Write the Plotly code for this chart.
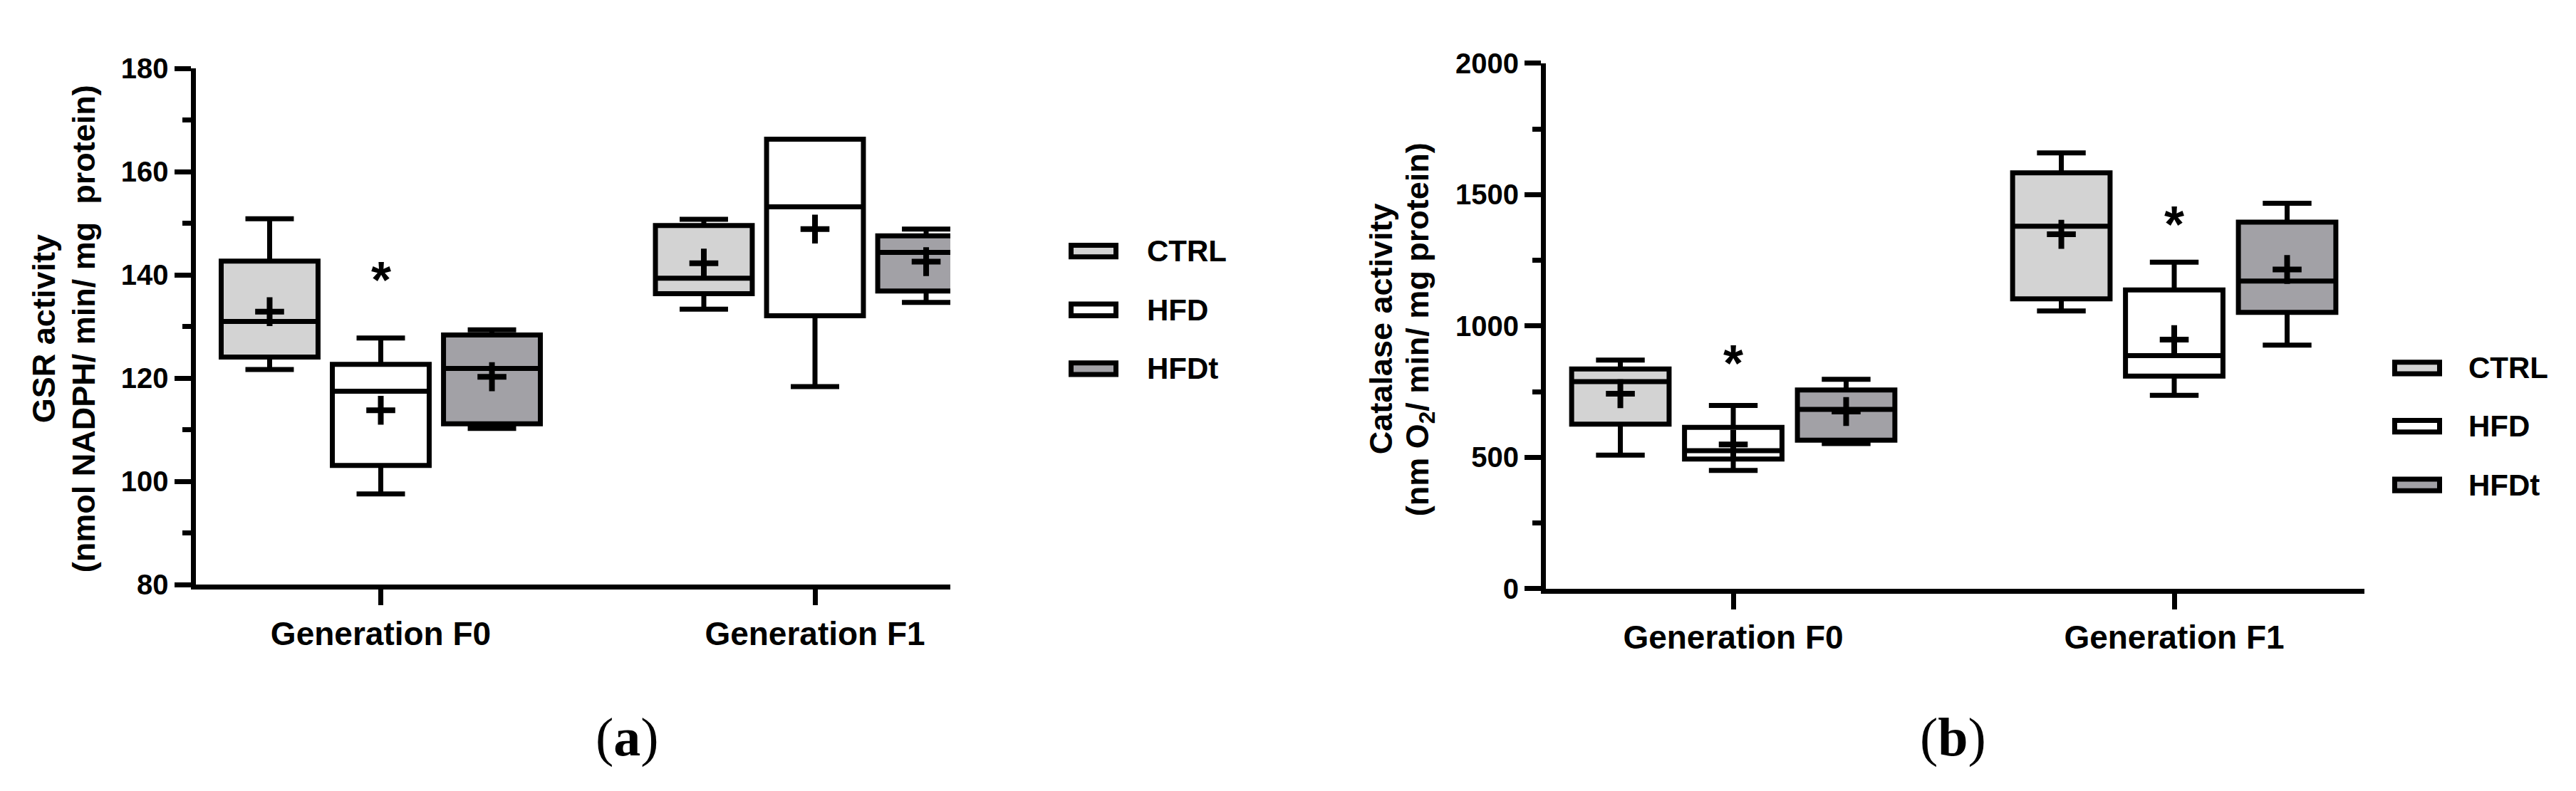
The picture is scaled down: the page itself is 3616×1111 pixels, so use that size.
import plotly.graph_objects as go

W, H = 3616, 1111

# ---------------- data ----------------
groups = ["Generation F0", "Generation F1"]
series = ["CTRL", "HFD", "HFDt"]
colors = {"CTRL": "#d3d3d3", "HFD": "#ffffff", "HFDt": "#a2a1a6"}

# (a) GSR activity, values per series for [F0, F1]
gsr_lower = {"CTRL": [121.7, 133.4], "HFD": [97.6, 118.4], "HFDt": [110.3, 134.7]}
gsr_q1 = {"CTRL": [124.1, 136.4], "HFD": [103.1, 132.1], "HFDt": [111.2, 136.9]}
gsr_median = {"CTRL": [131.0, 139.4], "HFD": [117.5, 153.2], "HFDt": [121.9, 144.4]}
gsr_q3 = {"CTRL": [142.7, 149.6], "HFD": [122.7, 166.3], "HFDt": [128.4, 147.6]}
gsr_upper = {"CTRL": [150.9, 150.8], "HFD": [127.8, 166.3], "HFDt": [129.4, 148.9]}
gsr_mean = {"CTRL": [132.9, 142.3], "HFD": [113.8, 148.9], "HFDt": [120.3, 142.6]}
gsr_star = {"F0": 139.1}

# (b) Catalase activity
cat_lower = {"CTRL": [508, 1057], "HFD": [450, 736], "HFDt": [552, 927]}
cat_q1 = {"CTRL": [626, 1103], "HFD": [493, 809], "HFDt": [565, 1052]}
cat_median = {"CTRL": [788, 1380], "HFD": [525, 887], "HFDt": [682, 1171]}
cat_q3 = {"CTRL": [836, 1583], "HFD": [614, 1137], "HFDt": [756, 1395]}
cat_upper = {"CTRL": [870, 1659], "HFD": [697, 1243], "HFDt": [797, 1467]}
cat_mean = {"CTRL": [742, 1349], "HFD": [549, 948], "HFDt": [674, 1215]}
cat_star = {"F0": 858, "F1": 1387}

gsr_ticks = [80, 100, 120, 140, 160, 180]
cat_ticks = [0, 500, 1000, 1500, 2000]

FONT = "Liberation Sans"
LW = 7

fig = go.Figure()


def add_panel(xa, ya, lower, q1, med, q3, upper, mean, spacing, bw):
    for k, s in enumerate(series):
        xs = [g + (k - 1) * spacing for g in range(len(groups))]
        fig.add_trace(go.Box(
            x=xs, q1=q1[s], median=med[s], q3=q3[s],
            lowerfence=lower[s], upperfence=upper[s],
            width=bw, whiskerwidth=0.5,
            fillcolor=colors[s], line=dict(color="black", width=LW),
            xaxis=xa, yaxis=ya, showlegend=False, boxpoints=False,
            hoverinfo="skip",
        ))
        fig.add_trace(go.Scatter(
            x=xs, y=mean[s], mode="markers",
            marker=dict(symbol="cross-thin", size=29,
                        line=dict(color="black", width=8), color="black"),
            xaxis=xa, yaxis=ya, showlegend=False, hoverinfo="skip",
        ))


add_panel("x", "y", gsr_lower, gsr_q1, gsr_median, gsr_q3, gsr_upper, gsr_mean, 0.256, 0.223)
add_panel("x2", "y2", cat_lower, cat_q1, cat_median, cat_q3, cat_upper, cat_mean, 0.256, 0.221)

axis_common = dict(showline=True, linewidth=LW, linecolor="black", showgrid=False,
                   zeroline=False, ticks="outside", tickwidth=LW, tickcolor="black",
                   fixedrange=True)

xtick_font = dict(family=FONT, size=46, color="black", weight="bold")
ytick_font = dict(family=FONT, size=40, color="black", weight="bold")

fig.update_layout(
    width=W, height=H, autosize=False,
    margin=dict(l=0, r=0, t=0, b=0),
    paper_bgcolor="white", plot_bgcolor="white",
    boxmode="overlay",
    xaxis=dict(domain=[266.5 / W, 1326 / W], range=[-0.4266, 1.3117],
               tickvals=[0, 1], ticktext=groups, ticklen=22,
               tickfont=xtick_font, anchor="y", **axis_common),
    yaxis=dict(domain=[1 - 824 / H, 1 - 69 / H], range=[80, 180],
               tickvals=gsr_ticks, ticklen=23, tickfont=ytick_font, anchor="x",
               minor=dict(dtick=10, ticks="outside", ticklen=12, tickwidth=LW,
                          tickcolor="black", showgrid=False),
               **axis_common),
    xaxis2=dict(domain=[2162 / W, 3311 / W], range=[-0.4249, 1.4313],
                tickvals=[0, 1], ticktext=groups, ticklen=22,
                tickfont=xtick_font, anchor="y2", **axis_common),
    yaxis2=dict(domain=[1 - 829.5 / H, 1 - 61.4 / H], range=[0, 2000],
                tickvals=cat_ticks, ticklen=23, tickfont=ytick_font, anchor="x2",
                minor=dict(dtick=250, ticks="outside", ticklen=12, tickwidth=LW,
                           tickcolor="black", showgrid=False),
                **axis_common),
)

ann = []
# significance stars
star_font = dict(family=FONT, size=72, color="black", weight="bold")
ann.append(dict(x=0, y=gsr_star["F0"], xref="x", yref="y", text="*", showarrow=False,
                font=star_font, xanchor="center", yanchor="middle", yshift=0))
ann.append(dict(x=0, y=cat_star["F0"], xref="x2", yref="y2", text="*", showarrow=False,
                font=star_font, xanchor="center", yanchor="middle", yshift=0))
ann.append(dict(x=1, y=cat_star["F1"], xref="x2", yref="y2", text="*", showarrow=False,
                font=star_font, xanchor="center", yanchor="middle", yshift=0))

# y-axis titles
title_font = dict(family=FONT, size=45, color="black", weight="bold")
for txt, px in [("GSR activity", 53), ("(nmol NADPH/ min/ mg\u00a0 protein)", 109),
                ("Catalase activity", 1930), ("(nm O<sub>2</sub>/ min/ mg protein)", 1984)]:
    ann.append(dict(x=px / W, y=1 - 450 / H, xref="paper", yref="paper", text=txt,
                    textangle=-90, showarrow=False, font=title_font,
                    xanchor="center", yanchor="middle"))

# panel labels
for txt, px in [("(<b>a</b>)", 872), ("(<b>b</b>)", 2733)]:
    ann.append(dict(x=px / W, y=1 - 1047 / H, xref="paper", yref="paper", text=txt,
                    showarrow=False, font=dict(family="Liberation Serif", size=76, color="black"),
                    xanchor="center", yanchor="middle"))

# legends (manual)
shapes = []
leg_font = dict(family=FONT, size=42, color="black", weight="bold")
for (rx0, rx1, tx, centers) in [(1492, 1562, 1600, [336, 422, 508]),
                                (3350, 3420, 3455, [507, 592, 678])]:
    for s, cy in zip(series, centers):
        shapes.append(dict(type="rect", xref="paper", yref="paper",
                           x0=(rx0 + 3.5) / W, x1=(rx1 - 3.5) / W,
                           y0=1 - (cy + 8.5) / H, y1=1 - (cy - 8.5) / H,
                           fillcolor=colors[s], line=dict(color="black", width=LW)))
        ann.append(dict(x=tx / W, y=1 - cy / H, xref="paper", yref="paper", text=s,
                        showarrow=False, font=leg_font, xanchor="left", yanchor="middle"))

fig.update_layout(annotations=ann, shapes=shapes)
fig.write_html("out.html")
